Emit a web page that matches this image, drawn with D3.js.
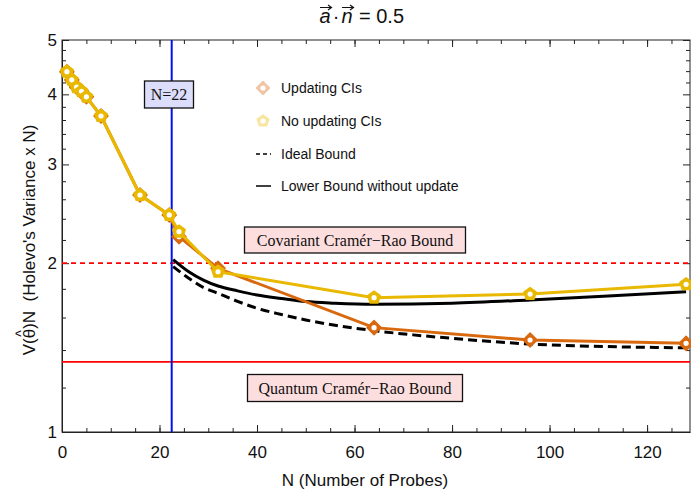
<!DOCTYPE html>
<html>
<head>
<meta charset="utf-8">
<script src="https://cdn.jsdelivr.net/npm/d3@7"></script>
<style>
  body { margin: 0; background: #fff; }
  svg { display: block; font-family: "Liberation Sans", Arial, sans-serif; }
  .axis path, .axis line { stroke: #222; }
  .axis text { font-size: 17px; fill: #111; }
</style>
</head>
<body>
<svg width="691" height="499"></svg>
<script>
// Data
const probesN = [1, 2, 3, 4, 5, 8, 16, 22, 24, 32, 64, 96, 128];
const noUpdating = [4.39, 4.245, 4.12, 4.05, 3.96, 3.66, 2.646, 2.438, 2.276, 1.931, 1.736, 1.762, 1.834];
const updating = [4.39, 4.245, 4.12, 4.05, 3.96, 3.66, 2.646, 2.438, 2.23, 1.958, 1.535, 1.459, 1.439];

const boundN = [22.8, 26, 29, 32, 36, 40, 45, 50, 56, 64, 72, 80, 96, 112, 128];
const lowerBound = [2.03, 1.931, 1.866, 1.821, 1.785, 1.755, 1.73, 1.708, 1.697, 1.69, 1.692, 1.697, 1.72, 1.748, 1.779];
const idealBound = [1.972, 1.88, 1.81, 1.767, 1.71, 1.662, 1.62, 1.584, 1.55, 1.516, 1.49, 1.469, 1.435, 1.42, 1.413];

const covariantCRB = 2;
const quantumCRB = 4 / 3;
const markN = 22.5;

const xTicks = [0, 20, 40, 60, 80, 100, 120];
const xMinor = d3.range(0, 130, 5);
const yTicks = [1, 2, 3, 4, 5];
const yMinor = [1.2, 1.4, 1.6, 1.8, 2.2, 2.4, 2.6, 2.8, 3.2, 3.4, 3.6, 3.8, 4.2, 4.4, 4.6, 4.8];

const legendLabels = ["Updating CIs", "No updating CIs", "Ideal Bound", "Lower Bound without update"];

const yellow = "#e9b800", orange = "#d9690f";

const svg = d3.select("svg");
const pLeft = 62, pRight = 690, pTop = 40, pBottom = 432;

const x = d3.scaleLinear().domain([0, 128.8]).range([pLeft, pRight]);
const y = d3.scaleLog().domain([1, 5]).range([pBottom, pTop]);

// frame + ticks (inward, mirrored)
function tickAxis(axisFn, scale, vals, size, pos, labels) {
  const a = axisFn(scale).tickValues(vals).tickSizeInner(-size).tickSizeOuter(0)
    .tickPadding(labels ? 4 + size : 0).tickFormat(labels ? d3.format("d") : "");
  const g = svg.append("g").attr("class", "axis").attr("transform", pos).call(a);
  if (!labels) g.select(".domain").remove();
  return g;
}
tickAxis(d3.axisBottom, x, xMinor, 4, `translate(0,${pBottom})`, false);
tickAxis(d3.axisTop, x, xMinor, 4, `translate(0,${pTop})`, false);
tickAxis(d3.axisLeft, y, yMinor, 4, `translate(${pLeft},0)`, false);
tickAxis(d3.axisRight, y, yMinor, 4, `translate(${pRight},0)`, false);

tickAxis(d3.axisBottom, x, xTicks, 7, `translate(0,${pBottom})`, true)
  .selectAll("text").attr("transform", "translate(0,3)");
tickAxis(d3.axisTop, x, xTicks, 7, `translate(0,${pTop})`, false);
tickAxis(d3.axisLeft, y, yTicks, 7, `translate(${pLeft},0)`, true)
  .selectAll("text").attr("dx", "6");
tickAxis(d3.axisRight, y, yTicks, 7, `translate(${pRight},0)`, false);

svg.append("rect").attr("x", pLeft).attr("y", pTop)
  .attr("width", pRight - pLeft).attr("height", pBottom - pTop)
  .attr("fill", "none").attr("stroke", "#222");

// reference lines
svg.append("line").attr("x1", pLeft).attr("x2", pRight)
  .attr("y1", y(covariantCRB)).attr("y2", y(covariantCRB))
  .attr("stroke", "#f00").attr("stroke-width", 1.6).attr("stroke-dasharray", "5,4");
svg.append("line").attr("x1", pLeft).attr("x2", pRight)
  .attr("y1", y(quantumCRB)).attr("y2", y(quantumCRB))
  .attr("stroke", "#f00").attr("stroke-width", 1.8);
svg.append("line").attr("x1", x(markN)).attr("x2", x(markN))
  .attr("y1", pTop).attr("y2", pBottom)
  .attr("stroke", "#0010f0").attr("stroke-width", 2);

// bound curves
const curve = d3.line().x(d => x(d[0])).y(d => y(d[1])).curve(d3.curveMonotoneX);
svg.append("path").datum(d3.zip(boundN, idealBound)).attr("d", curve)
  .attr("fill", "none").attr("stroke", "#000").attr("stroke-width", 3).attr("stroke-dasharray", "9,5");
svg.append("path").datum(d3.zip(boundN, lowerBound)).attr("d", curve)
  .attr("fill", "none").attr("stroke", "#000").attr("stroke-width", 3);

// data series
const line = d3.line().x(d => x(d[0])).y(d => y(d[1]));
const pentagon = r => d3.range(5).map(i => {
  const a = -Math.PI / 2 + i * 2 * Math.PI / 5;
  return [r * Math.cos(a), r * Math.sin(a)];
});
const diamond = r => [[0, -r], [r, 0], [0, r], [-r, 0]];

function marker(g, cx, cy, shape, col) {
  g.append("polygon").attr("points", shape.map(p => [cx + p[0], cy + p[1]].join(",")).join(" "))
    .attr("fill", col).attr("stroke", col).attr("stroke-width", 1.5).attr("stroke-linejoin", "round");
  g.append("circle").attr("cx", cx).attr("cy", cy).attr("r", 2.6).attr("fill", "#fff");
}

function series(vals, col, shape) {
  const pts = d3.zip(probesN, vals);
  svg.append("path").datum(pts).attr("d", line)
    .attr("fill", "none").attr("stroke", col).attr("stroke-width", 3).attr("stroke-linejoin", "round");
  const g = svg.append("g");
  pts.forEach(d => marker(g, x(d[0]), y(d[1]), shape, col));
}
series(updating, orange, diamond(7));
series(noUpdating, yellow, pentagon(6.5));

// boxed labels
function boxLabel(txt, cx, cy, w, h, fill) {
  svg.append("rect").attr("x", cx - w / 2).attr("y", cy - h / 2).attr("width", w).attr("height", h)
    .attr("fill", fill).attr("stroke", "#111").attr("stroke-width", 1.3);
  svg.append("text").attr("x", cx).attr("y", cy).attr("dy", "0.35em").attr("text-anchor", "middle")
    .style("font-family", "'Liberation Serif', 'Times New Roman', serif").style("font-size", "16px")
    .attr("fill", "#111").text(txt);
}
boxLabel("N=22", 169, 94.5, 49, 27, "#dcdcfb");
boxLabel("Covariant Cramér\u2212Rao Bound", 355, 240, 221, 26, "#fddede");
boxLabel("Quantum Cramér\u2212Rao Bound", 355, 388, 215, 27, "#fddede");

// legend
const legY = [88, 121, 154, 186];
const lg = svg.append("g");
legendLabels.forEach((t, i) => {
  lg.append("text").attr("x", 281).attr("y", legY[i]).attr("dy", "0.35em")
    .style("font-size", "14px").attr("fill", "#111").text(t);
});
marker(lg, 263, legY[0], diamond(6.5), "#f0c5a5");
marker(lg, 263, legY[1], pentagon(6), "#f8e6a0");
lg.append("line").attr("x1", 256).attr("x2", 271).attr("y1", legY[2]).attr("y2", legY[2])
  .attr("stroke", "#000").attr("stroke-width", 1.5).attr("stroke-dasharray", "4,3");
lg.append("line").attr("x1", 256).attr("x2", 271).attr("y1", legY[3]).attr("y2", legY[3])
  .attr("stroke", "#000").attr("stroke-width", 1.5);

// title: vector a . vector n = 0.5, arrows drawn over the letters
const tg = svg.append("g").style("font-size", "20px").attr("fill", "#111");
function vecLetter(ch, cx) {
  tg.append("text").attr("x", cx).attr("y", 23).attr("text-anchor", "middle")
    .style("font-style", "italic").text(ch);
  tg.append("path").attr("d", `M${cx - 5},7.5H${cx + 6}M${cx + 3},5L${cx + 6.5},7.5L${cx + 3},10`)
    .attr("fill", "none").attr("stroke", "#111").attr("stroke-width", 1.2);
}
vecLetter("a", 325);
tg.append("text").attr("x", 336).attr("y", 23).attr("text-anchor", "middle").text("\u00B7");
vecLetter("n", 347);
tg.append("text").attr("x", 359).attr("y", 23).text("= 0.5");

// axis titles
svg.append("text").attr("x", 365).attr("y", 486).attr("text-anchor", "middle")
  .style("font-size", "17px").attr("fill", "#111").text("N (Number of Probes)");
const ylg = svg.append("g").attr("transform", "translate(35,240) rotate(-90)");
const yl = ylg.append("text").attr("text-anchor", "middle").style("font-size", "17px").attr("fill", "#111")
  .text("V(\u03B8)N\u00A0\u00A0(Holevo's Variance x N)");
const node = yl.node();
const total = node.getComputedTextLength();
const thetaX = -total / 2 + node.getSubStringLength(0, 2) + node.getSubStringLength(2, 1) / 2;
ylg.append("text").attr("x", thetaX).attr("y", -9).attr("text-anchor", "middle")
  .style("font-size", "14px").attr("fill", "#111").text("^");
</script>
</body>
</html>
